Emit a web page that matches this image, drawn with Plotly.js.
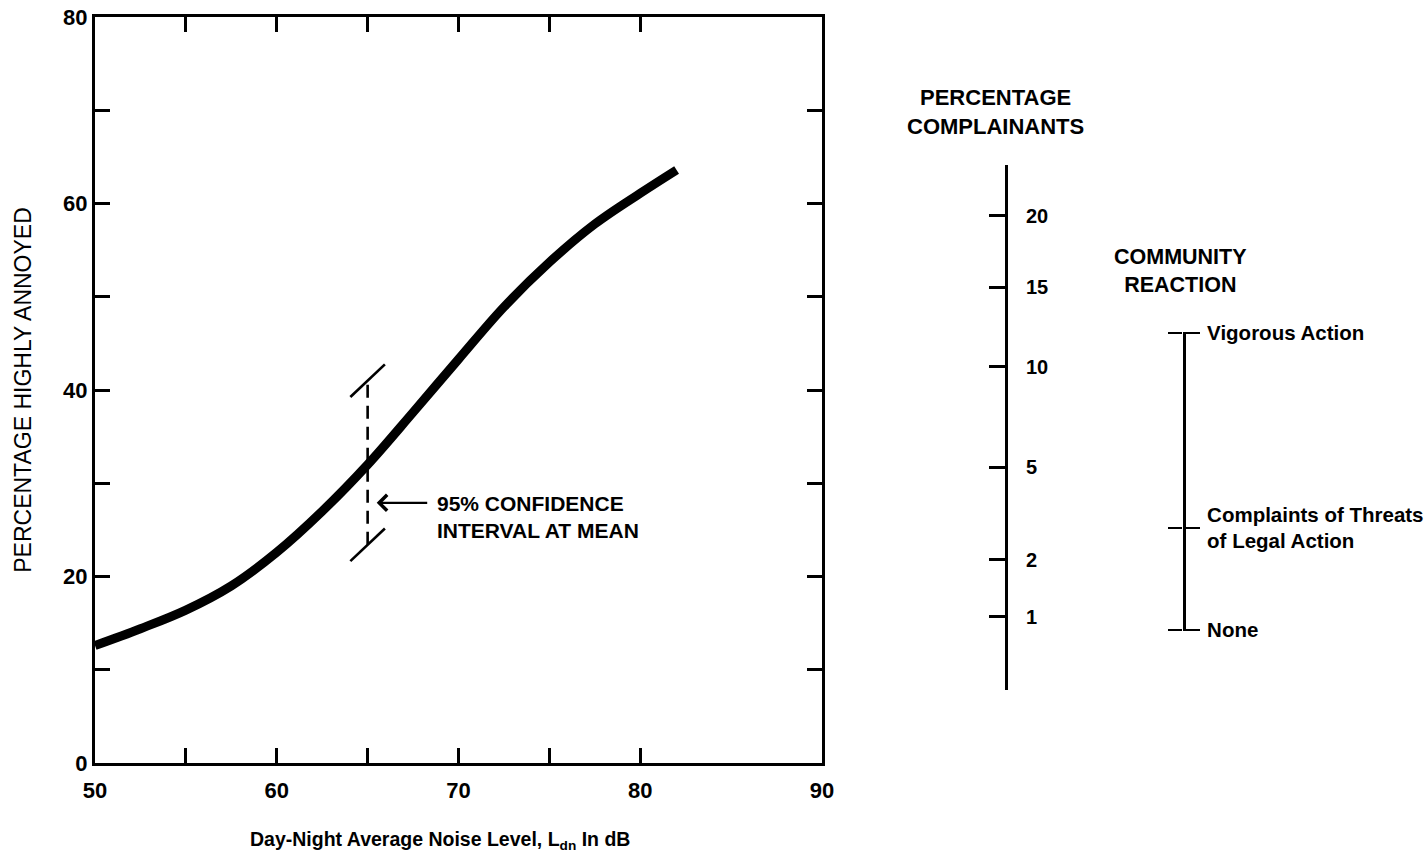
<!DOCTYPE html>
<html>
<head>
<meta charset="utf-8">
<script src="https://cdn.plot.ly/plotly-3.0.1.min.js"></script>
<style>html,body{margin:0;padding:0;background:#fff;}#chart{width:1428px;height:858px;}</style>
</head>
<body>
<div id="chart"></div>
<script>
// Main curve: Day-Night Average Noise Level (dB) vs Percentage Highly Annoyed
const ldn = [50, 52.5, 55, 57.5, 60, 62.5, 65, 67.5, 70, 72.5, 75, 77.5, 80, 82];
const highlyAnnoyed = [12.6, 14.4, 16.4, 19.0, 22.6, 27.0, 32.0, 37.6, 43.3, 48.9, 53.7, 57.8, 61.1, 63.6];

// 95% confidence interval at the mean
const ciLdn = 65;
const ciLow = 23.4;
const ciHigh = 41.0;

// Main axis ticks
const xTickVals = [50, 55, 60, 65, 70, 75, 80, 90];
const xTickText = ['50', '', '60', '', '70', '', '80', '90'];
const yTickVals = [0, 10, 20, 30, 40, 50, 60, 70, 80];
const yTickText = ['0', '', '20', '', '40', '', '60', '', '80'];

// Percentage complainants scale (positions expressed on the % highly annoyed scale)
const complainantLabels = ['20', '15', '10', '5', '2', '1'];
const complainantAt = [58.7, 51.0, 42.5, 31.7, 21.8, 15.7];

// Community reaction scale (positions expressed on the % highly annoyed scale)
const reactionLabels = ['Vigorous Action', 'Complaints of Threats<br>of Legal Action', 'None'];
const reactionAt = [46.1, 25.2, 14.26];

const black = '#000';
const FONT = 'Liberation Sans, Arial, Helvetica, sans-serif';

// geometry helpers (pixel layout of the page)
const W = 1428, H = 858;
const M = {l: 95, r: 0, t: 17, b: 95};
const PW = W - M.l - M.r, PH = H - M.t - M.b;
const px2x = p => (p - M.l) / PW;
const py2y = p => (H - M.b - p) / PH;
const pxPerUnit = PH / 80;

function subDomain(topPx, botPx) {
  return [py2y(botPx), py2y(topPx)];
}
function subRange(topPx, botPx) {
  return [(H - M.b - botPx) / pxPerUnit, (H - M.b - topPx) / pxPerUnit];
}

const capDx = 0.95, capDy = 1.75;

const traces = [
  {
    x: ldn, y: highlyAnnoyed, type: 'scatter', mode: 'lines',
    line: {color: black, width: 9, shape: 'spline', smoothing: 1},
    hoverinfo: 'skip', showlegend: false
  },
  {
    x: [ciLdn, ciLdn], y: [ciLow, ciHigh], type: 'scatter', mode: 'lines',
    line: {color: black, width: 2.6, dash: '13px,8px'},
    hoverinfo: 'skip', showlegend: false
  },
  {
    x: [ciLdn - capDx, ciLdn + capDx], y: [ciHigh - capDy, ciHigh + capDy], type: 'scatter', mode: 'lines',
    line: {color: black, width: 2.6}, hoverinfo: 'skip', showlegend: false
  },
  {
    x: [ciLdn - capDx, ciLdn + capDx], y: [ciLow - capDy, ciLow + capDy], type: 'scatter', mode: 'lines',
    line: {color: black, width: 2.6}, hoverinfo: 'skip', showlegend: false
  },
  // invisible anchors for the side scales
  {
    x: complainantAt.map(() => 0.5), y: complainantAt, xaxis: 'x2', yaxis: 'y2',
    type: 'scatter', mode: 'markers', marker: {opacity: 0}, hoverinfo: 'skip', showlegend: false
  },
  {
    x: reactionAt.map(() => 0.5), y: reactionAt, xaxis: 'x3', yaxis: 'y3',
    type: 'scatter', mode: 'markers', marker: {opacity: 0}, hoverinfo: 'skip', showlegend: false
  },
  {
    x: reactionAt.map(() => 0.5), y: reactionAt, xaxis: 'x4', yaxis: 'y4',
    type: 'scatter', mode: 'markers', marker: {opacity: 0}, hoverinfo: 'skip', showlegend: false
  }
];

const compPos = px2x(1005);
const reactPos = px2x(1183);
const reactDomain = subDomain(332, 631);
const reactRange = subRange(332, 631);

const layout = {
  width: W, height: H,
  margin: M,
  paper_bgcolor: '#fff',
  plot_bgcolor: 'rgba(0,0,0,0)',
  showlegend: false,
  font: {family: FONT, color: black, size: 20, weight: 'bold'},
  xaxis: {
    domain: [0, px2x(822)],
    range: [50, 90],
    tickmode: 'array', tickvals: xTickVals, ticktext: xTickText,
    ticks: 'inside', ticklen: 15, tickwidth: 3, tickcolor: black,
    showline: true, linewidth: 3, linecolor: black, mirror: 'ticks',
    showgrid: false, zeroline: false, fixedrange: true,
    tickfont: {family: FONT, size: 22, weight: 'bold', color: black},
    ticklabelstandoff: 6
  },
  yaxis: {
    domain: [0, 1],
    range: [0, 80],
    tickmode: 'array', tickvals: yTickVals, ticktext: yTickText,
    ticks: 'inside', ticklen: 15, tickwidth: 3, tickcolor: black,
    showline: true, linewidth: 3, linecolor: black, mirror: 'ticks',
    showgrid: false, zeroline: false, fixedrange: true,
    tickfont: {family: FONT, size: 22, weight: 'bold', color: black},
    title: {
      text: 'PERCENTAGE HIGHLY ANNOYED',
      font: {family: FONT, size: 23, weight: 'normal', color: black},
      standoff: 26
    }
  },
  xaxis2: {
    domain: [px2x(930), compPos], range: [0, 1], visible: false, fixedrange: true
  },
  yaxis2: {
    anchor: 'x2', side: 'right',
    domain: subDomain(165, 690), range: subRange(165, 690),
    tickmode: 'array', tickvals: complainantAt, ticktext: complainantLabels,
    ticks: 'inside', ticklen: 16, tickwidth: 3, tickcolor: black,
    showline: true, linewidth: 3, linecolor: black,
    showgrid: false, zeroline: false, fixedrange: true,
    ticklabelstandoff: 14,
    tickfont: {family: FONT, size: 20, weight: 'bold', color: black}
  },
  xaxis3: {
    domain: [px2x(1120), reactPos], range: [0, 1], visible: false, fixedrange: true
  },
  yaxis3: {
    anchor: 'x3', side: 'right',
    domain: reactDomain, range: reactRange,
    tickmode: 'array', tickvals: reactionAt, ticktext: reactionLabels,
    ticks: 'outside', ticklen: 14, tickwidth: 2.5, tickcolor: black,
    showline: true, linewidth: 3, linecolor: black,
    showgrid: false, zeroline: false, fixedrange: true,
    ticklabelstandoff: 3,
    tickfont: {family: FONT, size: 20.5, weight: 'bold', color: black}
  },
  xaxis4: {
    domain: [reactPos, px2x(1260)], range: [0, 1], visible: false, fixedrange: true
  },
  yaxis4: {
    anchor: 'x4', side: 'left',
    domain: reactDomain, range: reactRange,
    tickmode: 'array', tickvals: reactionAt, ticktext: reactionLabels,
    ticks: 'outside', ticklen: 14, tickwidth: 2.5, tickcolor: black,
    showticklabels: false, showline: false,
    showgrid: false, zeroline: false, fixedrange: true
  },
  annotations: [
    {
      xref: 'paper', yref: 'paper', x: px2x(440), y: py2y(840),
      text: 'Day-Night Average Noise Level, L<sub>dn</sub> In dB', showarrow: false,
      xanchor: 'center', yanchor: 'middle',
      font: {family: FONT, size: 19.5, weight: 'bold', color: black}
    },
    {
      xref: 'x', yref: 'y', x: 68.7, y: 26.4,
      text: '95% CONFIDENCE<br>INTERVAL AT MEAN', showarrow: false,
      xanchor: 'left', yanchor: 'middle', align: 'left',
      font: {family: FONT, size: 21, weight: 'bold', color: black}
    },
    {
      xref: 'x', yref: 'y', x: 65.5, y: 27.9, ax: 52, ay: 0,
      text: '', showarrow: true, arrowhead: 4, arrowsize: 1.4, arrowwidth: 2.2, arrowcolor: black,
      standoff: 0, startstandoff: 0
    },
    {
      xref: 'paper', yref: 'paper', x: px2x(995), y: py2y(112),
      text: 'PERCENTAGE<br>COMPLAINANTS', showarrow: false,
      xanchor: 'center', yanchor: 'middle', align: 'center',
      font: {family: FONT, size: 22, weight: 'bold', color: black}
    },
    {
      xref: 'paper', yref: 'paper', x: px2x(1180), y: py2y(271),
      text: 'COMMUNITY<br>REACTION', showarrow: false,
      xanchor: 'center', yanchor: 'middle', align: 'center',
      font: {family: FONT, size: 21.5, weight: 'bold', color: black}
    }
  ]
};

Plotly.newPlot('chart', traces, layout, {staticPlot: true, displayModeBar: false});
</script>
</body>
</html>
